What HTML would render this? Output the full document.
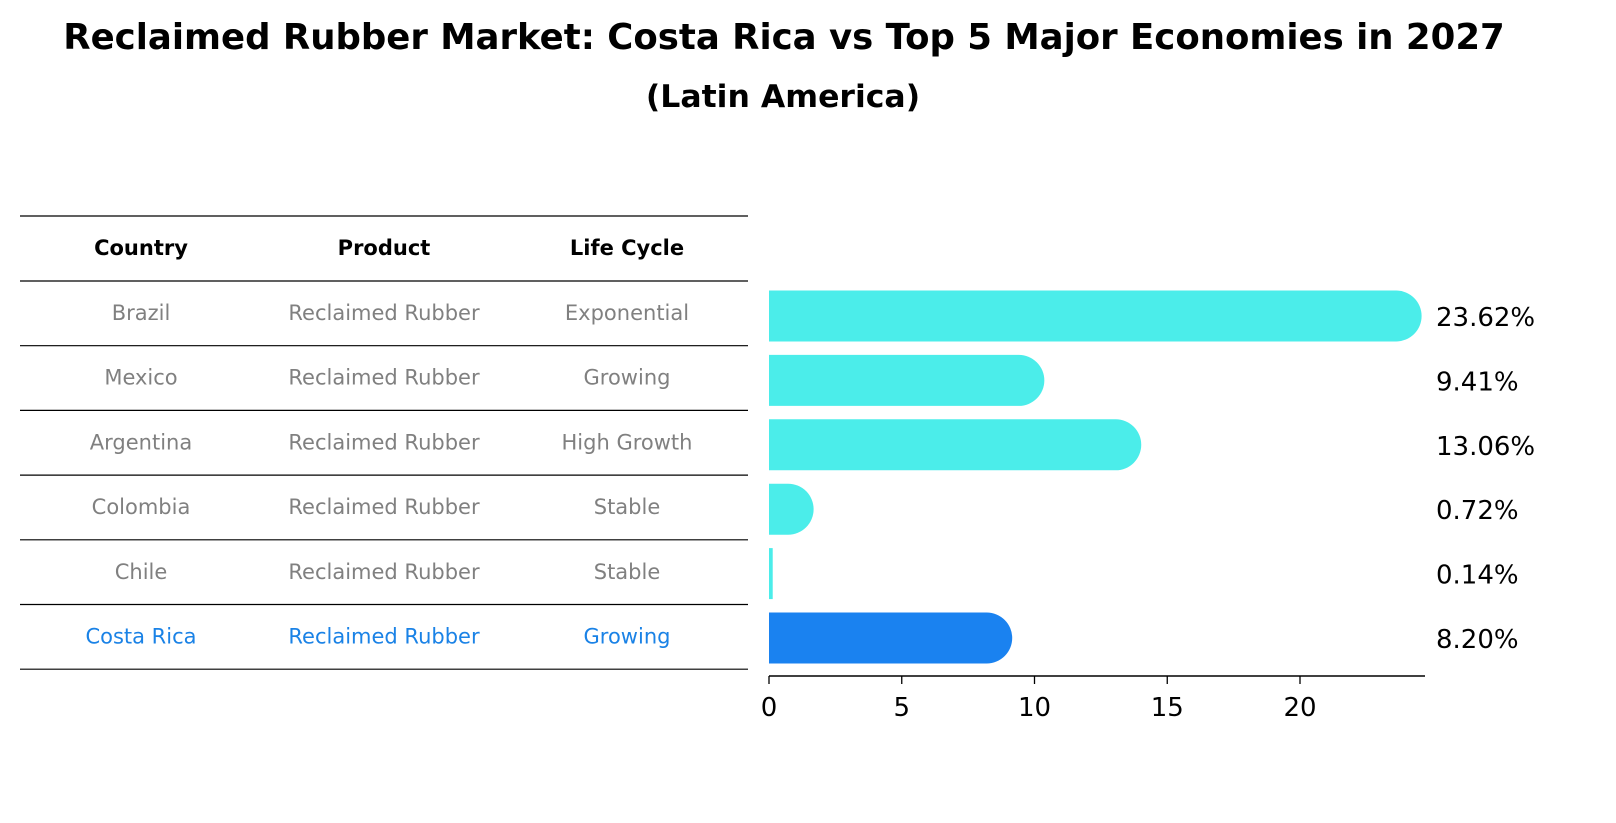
<!DOCTYPE html>
<html><head><meta charset="utf-8"><style>
body{margin:0;background:#fff;}
svg{display:block;font-family:"DejaVu Sans","Liberation Sans",sans-serif;}
</style></head><body>
<svg width="1616" height="823" viewBox="0 0 1616 823">
<text x="784" y="49" text-anchor="middle" font-size="35.5" font-weight="bold">Reclaimed Rubber Market: Costa Rica vs Top 5 Major Economies in 2027</text>
<text x="783" y="107" text-anchor="middle" font-size="31.5" font-weight="bold">(Latin America)</text>
<g id="table"></g>
<g id="bars"></g>
</svg>
<script>
const countries=["Brazil","Mexico","Argentina","Colombia","Chile","Costa Rica"];
const products=["Reclaimed Rubber","Reclaimed Rubber","Reclaimed Rubber","Reclaimed Rubber","Reclaimed Rubber","Reclaimed Rubber"];
const lifeCycles=["Exponential","Growing","High Growth","Stable","Stable","Growing"];
const values=[23.62,9.41,13.06,0.72,0.14,8.20];
const valueLabels=["23.62%","9.41%","13.06%","0.72%","0.14%","8.20%"];
const ticks=[0,5,10,15,20];
const NS="http://www.w3.org/2000/svg";
function mk(t,a,p){const e=document.createElementNS(NS,t);for(const k in a)e.setAttribute(k,a[k]);p.appendChild(e);return e;}
const tbl=document.getElementById('table');
const bars=document.getElementById('bars');
const x0=769,ppu=26.55;
const xs=v=>x0+v*ppu;
const rowY=i=>281+i*64.7;
const colX=[141,384,627];
["Country","Product","Life Cycle"].forEach((h,j)=>{const t=mk('text',{x:colX[j],y:255,'text-anchor':'middle','font-size':21,'font-weight':'bold'},tbl);t.textContent=h;

});
for(let i=0;i<=7;i++){const y=i==0?216:rowY(i-1);const l=mk('line',{x1:20,x2:748,y1:y,y2:y,stroke:'#000','stroke-width':1.2},tbl);

}
countries.forEach((c,i)=>{const cy=rowY(i)+32+7;const col=i==5?'#1a82e6':'#808080';
[c,products[i],lifeCycles[i]].forEach((s,j)=>{const t=mk('text',{x:colX[j],y:cy,'text-anchor':'middle','font-size':21,fill:col},tbl);t.textContent=s;

});
const by=rowY(i)+9.5+(i*-0.3),h=51,w=xs(values[i])-x0;
const color=i==5?'#1a82f0':'#4bedea';
let d;
if(values[i]>0.5){const r=h/2;d=`M${x0},${by}H${x0+w}A${r},${r} 0 0 1 ${x0+w},${by+h}H${x0}Z`;}
else d=`M${x0},${by}H${x0+Math.max(w,3)}V${by+h}H${x0}Z`;
const p=mk('path',{d:d,fill:color},bars);


const t=mk('text',{x:1436,y:by+h/2+10,'font-size':26},bars);t.textContent=valueLabels[i];


});
const ax=mk('line',{x1:x0,x2:1425,y1:676,y2:676,stroke:'#000','stroke-width':1.5},bars);


ticks.forEach(v=>{const l=mk('line',{x1:xs(v),x2:xs(v),y1:676,y2:684,stroke:'#000','stroke-width':1.3},bars);


const t=mk('text',{x:xs(v),y:716,'text-anchor':'middle','font-size':26},bars);t.textContent=v;

});
</script>
</body></html>
